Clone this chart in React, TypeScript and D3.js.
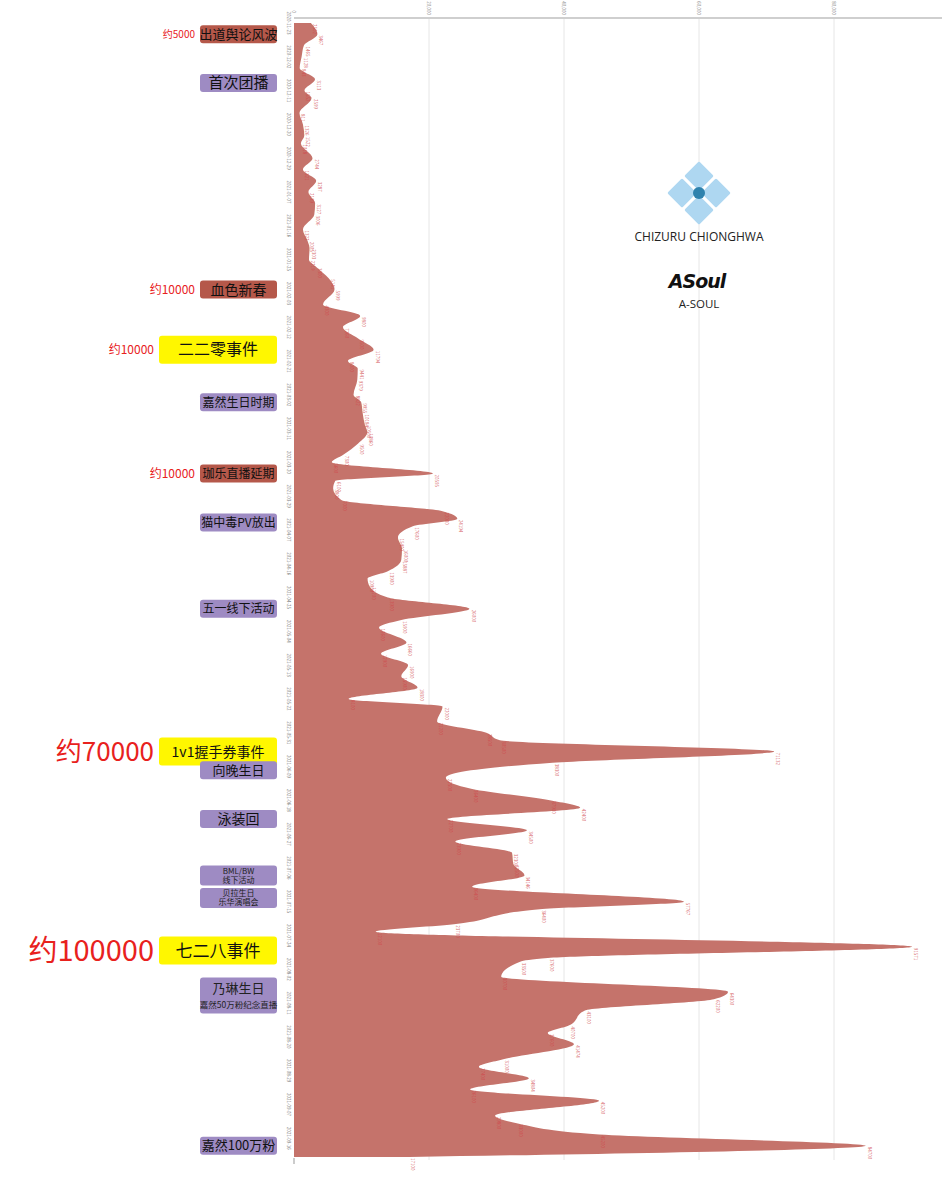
import React from "react";
import * as d3 from "d3";

// daily follower gain samples (date, value)
const dates = [
  "2020-11-23", "2020-11-26", "2020-11-29", "2020-12-02", "2020-12-05", "2020-12-08",
  "2020-12-11", "2020-12-13", "2020-12-17", "2020-12-20", "2020-12-23", "2020-12-25",
  "2020-12-29", "2021-01-01", "2021-01-04", "2021-01-07", "2021-01-10", "2021-01-13",
  "2021-01-17", "2021-01-20", "2021-01-22", "2021-01-25", "2021-01-27", "2021-01-30",
  "2021-02-02", "2021-02-06", "2021-02-09", "2021-02-12", "2021-02-15", "2021-02-18",
  "2021-02-21", "2021-02-23", "2021-02-26", "2021-03-02", "2021-03-04", "2021-03-07",
  "2021-03-10", "2021-03-12", "2021-03-15", "2021-03-18", "2021-03-20", "2021-03-23",
  "2021-03-25", "2021-03-27", "2021-03-30", "2021-04-02", "2021-04-04", "2021-04-06",
  "2021-04-09", "2021-04-12", "2021-04-15", "2021-04-18", "2021-04-20", "2021-04-22",
  "2021-04-25", "2021-04-28", "2021-05-01", "2021-05-03", "2021-05-07", "2021-05-10",
  "2021-05-13", "2021-05-16", "2021-05-19", "2021-05-22", "2021-05-24", "2021-05-28",
  "2021-05-31", "2021-06-02", "2021-06-05", "2021-06-08", "2021-06-12", "2021-06-15",
  "2021-06-18", "2021-06-20", "2021-06-23", "2021-06-26", "2021-06-29", "2021-07-02",
  "2021-07-05", "2021-07-08", "2021-07-11", "2021-07-15", "2021-07-17", "2021-07-21",
  "2021-07-23", "2021-07-27", "2021-07-30", "2021-07-31", "2021-08-04", "2021-08-08",
  "2021-08-10", "2021-08-13", "2021-08-17", "2021-08-19", "2021-08-22", "2021-08-26",
  "2021-08-28", "2021-08-31", "2021-09-03", "2021-09-06", "2021-09-10", "2021-09-12",
  "2021-09-15", "2021-09-18", "2021-09-21",
];

const values = [
  2502, 3467, 1465, 1128, 843, 3113,
  1552, 2599, 811, 1326, 1522, 1018,
  2744, 1321, 3287, 2139, 3127, 3006,
  1322, 2005, 2303, 2219, 3300, 5141,
  5999, 4300, 9800, 7260, 9500, 11794,
  8000, 9441, 9379, 8822, 9955, 10184,
  10500, 10860, 9500, 7300, 5600, 20595,
  6100, 5800, 7000, 22000, 24194, 17600,
  15400, 16000, 15887, 13900, 10900, 11200,
  13900, 26000, 15900, 12600, 16660, 12900,
  16900, 15900, 18300, 8100, 22000, 21200,
  28500, 30500, 71132, 38300, 22500, 26400,
  37900, 42400, 22700, 34500, 23900, 32300,
  32500, 34146, 26400, 57767, 36400, 23700,
  12100, 91571, 37600, 33500, 30700, 64300,
  62200, 43100, 40700, 37600, 41474, 31000,
  27400, 34804, 26100, 45200, 29800, 33000,
  45200, 84700, 17100,
];

const xTicks = [0, 20000, 40000, 60000, 80000];

// event annotations on the left side
const events = [
  { date: "2020-11-26", lines: ["出道舆论风波"], kind: "brown", size: 13, note: "约5000", noteSize: 10 },
  { date: "2020-12-09", lines: ["首次团播"], kind: "purple", size: 15 },
  { date: "2021-02-02", lines: ["血色新春"], kind: "brown", size: 14, note: "约10000", noteSize: 12 },
  { date: "2021-02-18", lines: ["二二零事件"], kind: "yellow", size: 16, note: "约10000", noteSize: 12 },
  { date: "2021-03-04", lines: ["嘉然生日时期"], kind: "purple", size: 12 },
  { date: "2021-03-23", lines: ["珈乐直播延期"], kind: "brown", size: 12, note: "约10000", noteSize: 12 },
  { date: "2021-04-05", lines: ["猫中毒PV放出"], kind: "purple", size: 12 },
  { date: "2021-04-28", lines: ["五一线下活动"], kind: "purple", size: 12 },
  { date: "2021-06-05", lines: ["1v1握手券事件"], kind: "yellow", size: 14, note: "约70000", noteSize: 26 },
  { date: "2021-06-10", lines: ["向晚生日"], kind: "purple", size: 13 },
  { date: "2021-06-23", lines: ["泳装回"], kind: "purple", size: 14 },
  { date: "2021-07-08", lines: ["BML/BW", "线下活动"], kind: "purple", size: 8 },
  { date: "2021-07-14", lines: ["贝拉生日", "乐华演唱会"], kind: "purple", size: 8 },
  { date: "2021-07-28", lines: ["七二八事件"], kind: "yellow", size: 17, note: "约100000", noteSize: 29 },
  { date: "2021-08-09", lines: ["乃琳生日", "嘉然50万粉纪念直播"], kind: "purple", size: 13 },
  { date: "2021-09-18", lines: ["嘉然100万粉"], kind: "purple", size: 13 },
];

const parse = d3.timeParse("%Y-%m-%d");
const fmt = d3.timeFormat("%Y-%m-%d");
const FONT = "'Noto Sans CJK SC', 'Noto Sans', sans-serif";
const kindFill: Record<string, string> = { brown: "#b5584a", purple: "#9e8bc3", yellow: "#fff700" };

const App: React.FC = () => {
  const data = dates.map((d, i) => ({ date: parse(d) as Date, value: values[i] }));
  const first = data[0].date;
  const last = data[data.length - 1].date;

  const y = d3.scaleTime().domain([first, last]).range([23, 1157]);
  const x = d3.scaleLinear().domain([0, 20000]).range([294, 429]);

  const area = d3
    .area<{ date: Date; value: number }>()
    .y((d) => y(d.date))
    .x0(x(0))
    .x1((d) => x(d.value))
    .curve(d3.curveMonotoneY);

  const yTicks = d3.timeDay.range(first, last, 1).filter((_, i) => i % 9 === 0);

  return (
    <svg
      width={942}
      height={1200}
      style={{ position: "absolute", left: 0, top: 0, background: "#fff" }}
      fontFamily={FONT}
    >
      {xTicks.slice(1).map((t) => (
        <line key={t} x1={x(t)} x2={x(t)} y1={18} y2={1160} stroke="#e6e6e6" strokeWidth={1} />
      ))}
      <line x1={x(0)} x2={942} y1={18} y2={18} stroke="#cfcfcf" strokeWidth={2} />
      {xTicks.map((t) => (
        <text
          key={t}
          transform={`translate(${x(t) - 2},${t === 0 ? 13 : 15}) rotate(90)`}
          textAnchor="end"
          fontSize={4.5}
          fill="#888"
        >
          {d3.format(",")(t)}
        </text>
      ))}
      <line x1={x(0)} x2={x(0)} y1={1158} y2={1164} stroke="#999" strokeWidth={1} />

      {/* logo */}
      <g>
        {[
          [0, -17],
          [-17, 0],
          [17, 0],
          [0, 17],
        ].map(([dx, dy], i) => (
          <rect
            key={i}
            x={-10.5}
            y={-10.5}
            width={21}
            height={21}
            rx={1.5}
            fill="#aed7f1"
            transform={`translate(${699 + dx},${193 + dy}) rotate(45)`}
          />
        ))}
        <circle cx={699} cy={193} r={6} fill="#2f82ad" />
        <text x={699} y={241} textAnchor="middle" fontSize={12} fill="#222" fontFamily="'Open Sans', sans-serif">
          CHIZURU CHIONGHWA
        </text>
        <text
          x={697}
          y={288}
          textAnchor="middle"
          fontSize={19}
          fontWeight={900}
          fontStyle="italic"
          letterSpacing={-1}
          fill="#111"
          fontFamily="'DejaVu Sans', sans-serif"
        >
          ASoul
        </text>
        <text x={699} y={308} textAnchor="middle" fontSize={11.5} fill="#222" fontFamily="'Open Sans', sans-serif">
          A-SOUL
        </text>
      </g>

      <path d={area(data) || ""} fill="#c5736b" />

      {data.map((d, i) => (
        <text
          key={i}
          transform={`translate(${x(d.value) + 2},${y(d.date) + 1}) rotate(90)`}
          fontSize={4.5}
          fill="#d0464a"
          fillOpacity={0.85}
        >
          {d.value}
        </text>
      ))}

      {yTicks.map((t) => (
        <text
          key={+t}
          transform={`translate(${287},${y(t)}) rotate(90)`}
          textAnchor="middle"
          fontSize={4.5}
          fill="#777"
        >
          {fmt(t)}
        </text>
      ))}

      {events.map((e, i) => {
        const cy = y(parse(e.date) as Date);
        const yellow = e.kind === "yellow";
        const twoLine = e.lines.length > 1;
        const big = e.lines[0] === "乃琳生日";
        const right = 277;
        const w = yellow ? 118 : 77;
        const h = yellow ? 28 : big ? 36 : twoLine ? 20 : 18;
        const left = right - w;
        return (
          <g key={i}>
            <rect x={left} y={cy - h / 2} width={w} height={h} rx={3} fill={kindFill[e.kind]} />
            {big ? (
              <>
                <text x={left + w / 2} y={cy - 3} textAnchor="middle" fontSize={13} fill="#222">
                  {e.lines[0]}
                </text>
                <text x={left + w / 2} y={cy + 12} textAnchor="middle" fontSize={8.5} fill="#222">
                  {e.lines[1]}
                </text>
              </>
            ) : twoLine ? (
              e.lines.map((l, j) => (
                <text
                  key={j}
                  x={left + w / 2}
                  y={cy - 1.5 + j * 9}
                  textAnchor="middle"
                  fontSize={e.size}
                  fill="#222"
                >
                  {l}
                </text>
              ))
            ) : (
              <text
                x={left + w / 2}
                y={cy}
                dy="0.36em"
                textAnchor="middle"
                fontSize={e.size}
                fill="#111"
              >
                {e.lines[0]}
              </text>
            )}
            {e.note && (
              <text
                x={left - 5}
                y={cy}
                dy="0.36em"
                textAnchor="end"
                fontSize={e.noteSize}
                fill="#e8211d"
              >
                {e.note}
              </text>
            )}
          </g>
        );
      })}
    </svg>
  );
};

export default App;
